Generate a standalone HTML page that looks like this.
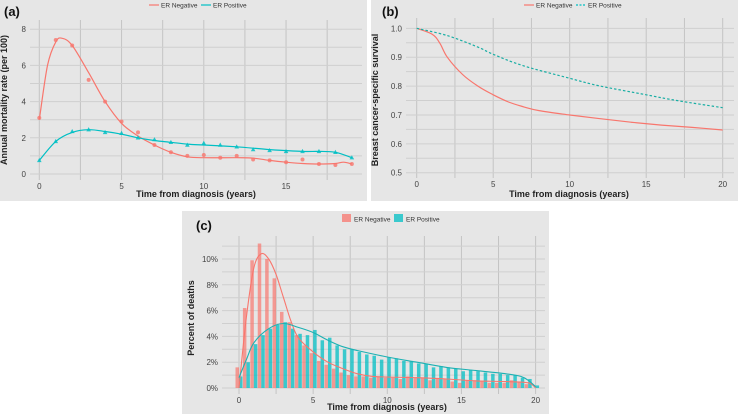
<!DOCTYPE html>
<html><head><meta charset="utf-8">
<style>
html,body{margin:0;padding:0;background:#fff;}
svg{display:block;font-family:"Liberation Sans",sans-serif;}
</style></head>
<body>
<svg id="fig" width="738" height="415" viewBox="0 0 738 415"></svg>
<script>
// ---------- Panel (a) data ----------
const aYears = [0,1,2,3,4,5,6,7,8,9,10,11,12,13,14,15,16,17,18,19];
const aNegPts = [3.1,7.4,7.1,5.2,4.0,2.9,2.3,1.6,1.2,1.0,1.05,0.9,1.0,0.8,0.75,0.65,0.8,0.55,0.5,0.55];
const aPosPts = [0.75,1.8,2.35,2.45,2.3,2.25,2.0,1.9,1.75,1.6,1.7,1.6,1.5,1.35,1.3,1.25,1.25,1.25,1.2,0.9];
const aNegSmX = [0,0.5,1,1.4,2,3,4,5,6,7,8,9,10,12,13,14,15,16,17,18,18.5,19];
const aNegSmY = [3.0,6.0,7.3,7.5,7.1,5.6,4.0,2.8,2.1,1.6,1.2,0.95,0.9,0.9,0.88,0.75,0.65,0.58,0.55,0.58,0.65,0.55];
const aPosSmX = [0,1,2,3,4,5,6,7,8,9,10,12,14,16,17,18,19];
const aPosSmY = [0.75,1.8,2.3,2.45,2.35,2.2,2.0,1.85,1.75,1.65,1.6,1.5,1.35,1.25,1.25,1.2,0.9];
const aXTicks = [0,5,10,15];
const aYTicks = [0,2,4,6,8];
// ---------- Panel (b) data ----------
const bNegX = [0,1,1.5,2,3,4,5,6,7,8,10,12,14,16,18,20];
const bNegY = [1.0,0.98,0.95,0.9,0.84,0.80,0.77,0.745,0.728,0.715,0.70,0.687,0.675,0.665,0.657,0.648];
const bPosX = [0,2,4,5,7,10,12,15,17,20];
const bPosY = [1.0,0.975,0.935,0.91,0.87,0.827,0.8,0.77,0.75,0.725];
const bXTicks = [0,5,10,15,20];
const bYTicks = [0.5,0.6,0.7,0.8,0.9,1.0];
// ---------- Panel (c) data ----------
const cBins = [0,0.5,1,1.5,2,2.5,3,3.5,4,4.5,5,5.5,6,6.5,7,7.5,8,8.5,9,9.5,10,10.5,11,11.5,12,12.5,13,13.5,14,14.5,15,15.5,16,16.5,17,17.5,18,18.5,19,19.5,20];
const cNeg = [1.6,6.2,9.9,11.2,10.0,8.5,5.9,5.1,4.1,3.3,2.7,2.1,1.8,1.5,1.2,1.0,0.9,0.9,0.8,0.9,0.8,0.8,0.7,0.9,0.8,0.8,0.6,0.7,0.7,0.5,0.4,0.6,0.6,0.5,0.4,0.4,0.4,0.6,0.5,0.3,0];
const cPos = [0.9,2.0,3.4,4.1,4.6,4.9,5.1,4.6,4.2,4.1,4.5,3.7,3.9,3.3,3.0,3.0,2.8,2.6,2.5,2.2,2.4,2.3,2.1,2.1,1.9,1.9,1.6,1.7,1.6,1.5,1.3,1.4,1.3,1.2,1.1,1.1,1.0,1.0,0.8,0.7,0.2];
const cNegSmX = [0,0.5,1,1.5,2,2.5,3,3.5,4,5,6,7,8,9,10,12,14,16,18,19.5,20];
const cNegSmY = [0,5.5,9.3,10.4,10.0,8.8,7.0,5.2,3.9,2.8,2.0,1.5,1.1,0.9,0.85,0.8,0.7,0.55,0.5,0.4,0];
const cPosSmX = [0,0.5,1,2,3,4,5,6,7,8,10,12,14,16,18,19,19.5,20];
const cPosSmY = [0.8,2.2,3.5,4.6,5.0,4.7,4.3,3.7,3.2,2.9,2.4,2.0,1.6,1.35,1.1,0.9,0.6,0.1];
const cXTicks = [0,5,10,15,20];
const cYTicks = [0,2,4,6,8,10];

const NS="http://www.w3.org/2000/svg";
const svg=document.getElementById('fig');
const RED="#f8766d", TEAL="#00bfc4";
function mk(tag,attrs,parent){const e=document.createElementNS(NS,tag);for(const k in attrs)e.setAttribute(k,attrs[k]);(parent||svg).appendChild(e);return e;}
function smoothPath(xs,ys){
  let d="M"+xs[0].toFixed(1)+","+ys[0].toFixed(1);
  for(let i=0;i<xs.length-1;i++){
    const x0=xs[Math.max(i-1,0)],y0=ys[Math.max(i-1,0)],x1=xs[i],y1=ys[i],x2=xs[i+1],y2=ys[i+1],x3=xs[Math.min(i+2,xs.length-1)],y3=ys[Math.min(i+2,xs.length-1)];
    d+=" C"+(x1+(x2-x0)/6).toFixed(1)+","+(y1+(y2-y0)/6).toFixed(1)+" "+(x2-(x3-x1)/6).toFixed(1)+","+(y2-(y3-y1)/6).toFixed(1)+" "+x2.toFixed(1)+","+y2.toFixed(1);
  }
  return d;
}
function panel(o){
  const g=mk('g',{});
  
  
  const bg=mk('rect',{x:o.bx,y:o.by,width:o.bw,height:o.bh,fill:"#e6e6e6"},g);
  
  
  const sx=v=>o.x0+(v-o.xmin)*o.xs, sy=v=>o.y0-(v-o.ymin)*o.ys;
  // minor grid
  for(let v=o.xmin-o.xstep/2; v<=o.xmax+o.xstep; v+=o.xstep/2){const x=sx(v);if(x<o.px0||x>o.px1)continue;mk('line',{x1:x,x2:x,y1:o.py0,y2:o.py1,stroke:"#c4c4c4","stroke-width":1},g);}
  for(let v=o.ymin-o.ystep/2; v<=o.ymax+o.ystep; v+=o.ystep/2){const y=sy(v);if(y<o.py0||y>o.py1)continue;mk('line',{x1:o.px0,x2:o.px1,y1:y,y2:y,stroke:"#cfcfcf","stroke-width":1},g);}
  for(const v of o.xticks){const t=mk('text',{x:sx(v),y:o.py1+9,"font-size":8,fill:"#444","text-anchor":"middle"},g);t.textContent=v;}
  for(const v of o.yticks){const t=mk('text',{x:o.px0-4,y:sy(v)+3,"font-size":8,fill:"#444","text-anchor":"end"},g);t.textContent=o.yfmt(v);}
  const xt=mk('text',{x:o.xtx,y:o.xty,"font-size":9,"font-weight":"bold",fill:"#222","text-anchor":"middle"},g);xt.textContent="Time from diagnosis (years)";
  
  const yt=mk('text',{x:0,y:0,"font-size":9,"font-weight":"bold",fill:"#222","text-anchor":"middle",transform:`translate(${o.ytx},${o.yty}) rotate(-90)`},g);yt.textContent=o.ytitle;
  
  const lab=mk('text',{x:o.lx,y:o.ly,"font-size":13,"font-weight":"bold",fill:"#111"},g);lab.textContent=o.label;
  
  return {g,sx,sy};
}
function legend(g,x,y,kind){
  const items=[["ER Negative",RED,false,x],["ER Positive",TEAL,kind==='dash',x+52]];
  for(const [txt,c,dash,lx] of items){
    const lg=mk('g',{},g);
    
    
    if(kind==='bar'){mk('rect',{x:lx,y:y-5,width:9,height:8,fill:c,opacity:0.75},lg);}
    else{mk('line',{x1:lx,x2:lx+10,y1:y,y2:y,stroke:c,"stroke-width":1.2,"stroke-dasharray":dash?"2,1.5":"none"},lg);}
    const t=mk('text',{x:lx+12,y:y+2.5,"font-size":6.5,fill:"#333"},lg);t.textContent=txt;
  }
}
// ---- Panel A ----
(function(){
  const p=panel({name:'panel-a-mortality-rate',bx:0,by:0,bw:367,bh:201,x0:39.3,xs:16.45,xmin:0,xmax:19,xstep:5,y0:174,ys:18.1,ymin:0,ymax:8,ystep:2,
    px0:30,px1:362,py0:20,py1:180,xticks:aXTicks,yticks:aYTicks,yfmt:v=>v,xtx:196,xty:197,ytx:7,yty:100,ytitle:"Annual mortality rate (per 100)",label:"(a)",lx:4,ly:16});
  legend(p.g,149,5,'line');
  const nx=aNegSmX.map(p.sx),ny=aNegSmY.map(p.sy);
  const ln=mk('path',{d:smoothPath(nx,ny),fill:"none",stroke:RED,"stroke-width":1.2},p.g);
  
  const px=aPosSmX.map(p.sx),py=aPosSmY.map(p.sy);
  const lp=mk('path',{d:smoothPath(px,py),fill:"none",stroke:TEAL,"stroke-width":1.2},p.g);
  
  aYears.forEach((yr,i)=>{
    const c=mk('circle',{cx:p.sx(yr),cy:p.sy(aNegPts[i]),r:2,fill:RED,opacity:0.8},p.g);
    
    const x=p.sx(yr),y=p.sy(aPosPts[i]);
    const t=mk('polygon',{points:`${x},${y-2.5} ${x-2.3},${y+1.7} ${x+2.3},${y+1.7}`,fill:TEAL,opacity:0.85},p.g);
    
  });
})();
// ---- Panel B ----
(function(){
  const p=panel({name:'panel-b-survival',bx:371,by:0,bw:367,bh:201,x0:416.7,xs:15.3,xmin:0,xmax:20,xstep:5,y0:172.7,ys:288.7,ymin:0.5,ymax:1.0,ystep:0.1,
    px0:406,px1:734,py0:18,py1:178,xticks:bXTicks,yticks:bYTicks,yfmt:v=>v.toFixed(1),xtx:569,xty:197,ytx:378,yty:100,ytitle:"Breast cancer-specific survival",label:"(b)",lx:382,ly:16});
  legend(p.g,524,5,'dash');
  const n=mk('path',{d:smoothPath(bNegX.map(p.sx),bNegY.map(p.sy)),fill:"none",stroke:RED,"stroke-width":1.2},p.g);
  
  const q=mk('path',{d:smoothPath(bPosX.map(p.sx),bPosY.map(p.sy)),fill:"none",stroke:"#1aaea4","stroke-width":1.2,"stroke-dasharray":"2.5,2"},p.g);
  
})();
// ---- Panel C ----
(function(){
  const p=panel({name:'panel-c-percent-deaths',bx:182,by:211,bw:367,bh:203,x0:239,xs:14.83,xmin:0,xmax:20,xstep:5,y0:388,ys:12.9,ymin:0,ymax:10,ystep:2,
    px0:222,px1:545,py0:236,py1:394,xticks:cXTicks,yticks:cYTicks,yfmt:v=>v+"%",xtx:387,xty:410,ytx:194,yty:318,ytitle:"Percent of deaths",label:"(c)",lx:196,ly:230});
  legend(p.g,342,219,'bar');
  const bw=3.5;
  cBins.forEach((b,i)=>{
    const x=p.sx(b);
    const r=mk('rect',{x:x-bw,y:p.sy(cNeg[i]),width:bw,height:cNeg[i]*12.9,fill:RED,opacity:0.7},p.g);
    
    const t=mk('rect',{x:x,y:p.sy(cPos[i]),width:bw,height:cPos[i]*12.9,fill:TEAL,opacity:0.75},p.g);
    
  });
  const n=mk('path',{d:smoothPath(cNegSmX.map(p.sx),cNegSmY.map(p.sy)),fill:"none",stroke:RED,"stroke-width":1.1},p.g);
  
  const q=mk('path',{d:smoothPath(cPosSmX.map(p.sx),cPosSmY.map(p.sy)),fill:"none",stroke:"#1cb1b3","stroke-width":1.1},p.g);
  
})();
</script>
</body></html>
